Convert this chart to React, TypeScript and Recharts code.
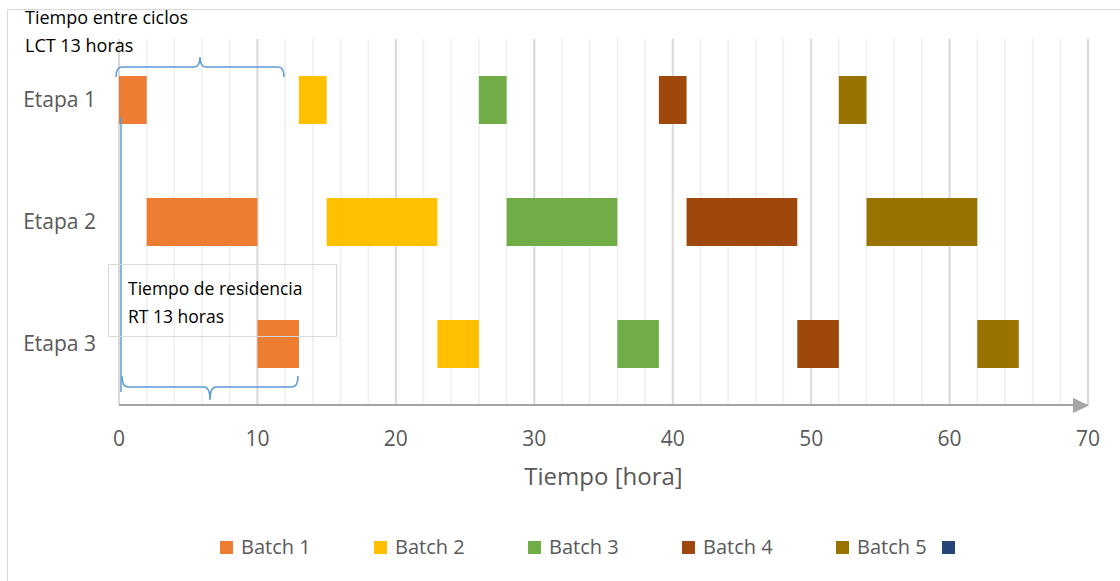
import React from 'react';
import { BarChart, Bar, XAxis, YAxis, CartesianGrid } from 'recharts';

const FONT = "'Open Sans', sans-serif";

const stages = ['Etapa 1', 'Etapa 2', 'Etapa 3'];
const batchNames = ['Batch 1', 'Batch 2', 'Batch 3', 'Batch 4', 'Batch 5'];
const batchColors = ['#ED7D31', '#FFC000', '#70AD47', '#9E480E', '#997300'];
const extraLegendColor = '#264478';

// [start, end] in hours for Etapa 1, Etapa 2, Etapa 3
const batch1 = [[0, 2], [2, 10], [10, 13]];
const batch2 = [[13, 15], [15, 23], [23, 26]];
const batch3 = [[26, 28], [28, 36], [36, 39]];
const batch4 = [[39, 41], [41, 49], [49, 52]];
const batch5 = [[52, 54], [54, 62], [62, 65]];

const xTicks = [0, 10, 20, 30, 40, 50, 60, 70];
const minorTicks = [0, 2, 4, 6, 8, 10, 12, 14, 16, 18, 20, 22, 24, 26, 28, 30, 32, 34, 36, 38, 40, 42, 44, 46, 48, 50, 52, 54, 56, 58, 60, 62, 64, 66, 68, 70];

const batches = [batch1, batch2, batch3, batch4, batch5];

const data = stages.map((stage, i) => {
  const row: Record<string, any> = { stage };
  let prevEnd = 0;
  batches.forEach((b, j) => {
    row[`gap${j}`] = b[i][0] - prevEnd;
    row[`b${j}`] = b[i][1] - b[i][0];
    prevEnd = b[i][1];
  });
  return row;
});

const legendWidths = [154, 154, 154, 154, 106];

const minorGenerator = (props: any) => {
  const xAxis = props && props.xAxis;
  if (xAxis && typeof xAxis.scale === 'function') {
    return minorTicks.map((v) => xAxis.scale(v));
  }
  const off = props.offset;
  return minorTicks.map((v) => off.left + (v / 70) * off.width);
};

export default function App() {
  const bars: React.ReactNode[] = [];
  batches.forEach((_, j) => {
    bars.push(
      <Bar key={`gap${j}`} dataKey={`gap${j}`} stackId="s" fill="transparent" barSize={48} isAnimationActive={false} legendType="none" />
    );
    bars.push(
      <Bar key={`b${j}`} dataKey={`b${j}`} name={batchNames[j]} stackId="s" fill={batchColors[j]} barSize={48} isAnimationActive={false} />
    );
  });

  return (
    <div style={{ position: 'absolute', left: 0, top: 0, width: 1120, height: 581, background: '#fff', fontFamily: FONT, overflow: 'hidden' }}>
      <BarChart
        width={1120}
        height={581}
        data={data}
        layout="vertical"
        margin={{ top: 39, right: 32, left: 0, bottom: 96 }}
        style={{ fontFamily: FONT }}
      >
        <CartesianGrid horizontal={false} stroke="#eeeeee" strokeWidth={1.5} verticalCoordinatesGenerator={minorGenerator} />
        <CartesianGrid horizontal={false} stroke="#d9d9d9" strokeWidth={2} />
        <XAxis
          type="number"
          domain={[0, 70]}
          ticks={xTicks}
          interval={0}
          height={80}
          tickLine={false}
          tickSize={0}
          tickMargin={26}
          axisLine={{ stroke: '#a6a6a6', strokeWidth: 2 }}
          tick={{ fontSize: 21, fill: '#595959', fontFamily: FONT }}
          label={{ value: 'Tiempo [hora]', position: 'insideBottom', offset: 0, fontSize: 24, fill: '#595959', fontFamily: FONT }}
        />
        <YAxis
          type="category"
          dataKey="stage"
          width={119}
          axisLine={false}
          tickLine={false}
          tickSize={0}
          tickMargin={23}
          tick={{ fontSize: 21, fill: '#595959', fontFamily: FONT }}
        />
        {bars}
      </BarChart>

      <svg width={1120} height={581} style={{ position: 'absolute', left: 0, top: 0, pointerEvents: 'none' }}>
        {/* chart frame */}
        <path d="M7.5,600 L7.5,9.5 L1130,9.5" fill="none" stroke="#d9d9d9" strokeWidth={1} />
        {/* axis arrow */}
        <polygon points="1073,398 1089,405.5 1073,413" fill="#a6a6a6" />
        {/* top brace */}
        <path
          d="M116,77 Q116,67 122,67 L194,67 Q200,67 200,57 Q200,67 206,67 L278,67 Q284,67 284,77"
          fill="none" stroke="#5b9bd5" strokeWidth={1.5}
        />
        {/* vertical line */}
        <line x1={121} y1={117} x2={121} y2={392} stroke="#5b9bd5" strokeWidth={1.5} />
        {/* bottom brace */}
        <path
          d="M122,376 Q122,387 128,387 L204,387 Q210,387 210,400 Q210,387 216,387 L292,387 Q298,387 298,376"
          fill="none" stroke="#5b9bd5" strokeWidth={1.5}
        />
        {/* residence box */}
        <rect x={108.5} y={264.5} width={228} height={72} fill="none" stroke="#d9d9d9" strokeWidth={1} />
        <text x={128} y={295} fontSize={17.5} fill="#000" fontFamily={FONT}>Tiempo de residencia</text>
        <text x={128} y={323} fontSize={17.5} fill="#000" fontFamily={FONT}>RT 13 horas</text>
        {/* cycle time text */}
        <text x={25} y={24} fontSize={18} fill="#000" fontFamily={FONT}>Tiempo entre ciclos</text>
        <text x={25} y={52} fontSize={18} fill="#000" fontFamily={FONT}>LCT 13 horas</text>
      </svg>

      <div style={{ position: 'absolute', left: 220, top: 533, height: 28, display: 'flex', alignItems: 'center' }}>
        {batchNames.map((n, j) => (
          <div key={n} style={{ width: legendWidths[j], display: 'flex', alignItems: 'center' }}>
            <div style={{ width: 13, height: 13, background: batchColors[j], marginRight: 8 }} />
            <span style={{ fontSize: 20, color: '#595959', lineHeight: '28px', whiteSpace: 'nowrap' }}>{n}</span>
          </div>
        ))}
        <div style={{ width: 13, height: 13, background: extraLegendColor }} />
      </div>
    </div>
  );
}
